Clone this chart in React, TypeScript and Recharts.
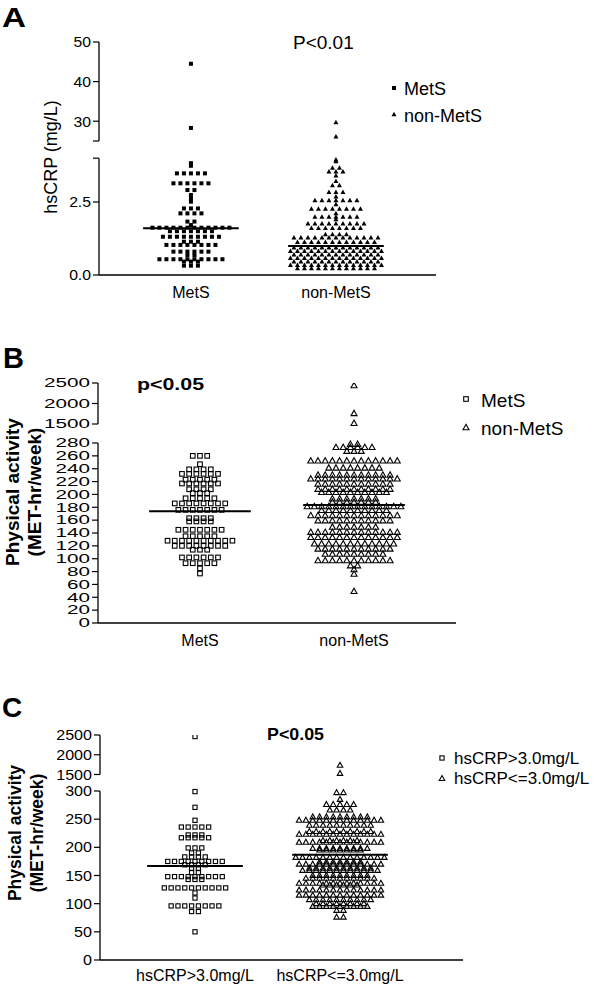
import React from 'react';
import { ScatterChart, Scatter, XAxis, YAxis, ReferenceLine, Legend } from 'recharts';

const FONT = '"Liberation Sans", Arial, Helvetica, sans-serif';

// Each row: [value, number of subjects plotted at that value]
type Row = [number, number];
type Tick = [number, string];
type Seg = { v0: number; v1: number; d0: number; d1: number };

// ---------------- Panel A : hsCRP ----------------
const A_CATEGORIES = ['MetS', 'non-MetS'];
const A_METS: Row[] = [
  [44.5, 1], [28.3, 1],
  [3.83, 1], [3.74, 1], [3.48, 5], [3.14, 6], [2.91, 2], [2.74, 1], [2.61, 1], [2.51, 1],
  [2.28, 3], [2.11, 4], [1.83, 2], [1.71, 1], [1.62, 12], [1.5, 7], [1.31, 9], [1.14, 3],
  [1.03, 8], [0.8, 6], [0.68, 2], [0.54, 10], [0.46, 3], [0.32, 3],
];
const A_NON: Row[] = [
  [29.8, 1], [26.2, 1],
  [3.96, 1], [3.9, 1], [3.68, 2], [3.55, 3], [3.42, 1], [3.23, 1], [3.08, 2], [2.85, 3],
  [2.7, 1], [2.57, 7], [2.43, 1], [2.28, 8], [2.12, 1], [2.0, 7], [1.92, 1], [1.77, 9],
  [1.62, 8], [1.4, 4], [1.29, 13], [1.14, 12],
  [0.95, 13], [0.83, 14], [0.71, 13], [0.59, 14], [0.47, 13], [0.35, 14], [0.24, 12],
];
const A_MEDIANS = [1.6, 0.99];
const A_TICKS: Tick[] = [[0, '0.0'], [2.5, '2.5'], [4, ''], [25, ''], [30, '30'], [40, '40'], [50, '50']];

// ---------------- Panel B : physical activity by MetS ----------------
const B_CATEGORIES = ['MetS', 'non-MetS'];
const B_METS: Row[] = [
  [260, 3], [247, 1], [239, 4], [232, 6], [223, 5], [217, 6], [208, 4], [202, 3], [194, 5],
  [186, 8], [176, 7], [163, 4], [158, 4], [145, 7], [135, 5], [128, 10], [120, 8], [114, 3],
  [102, 6], [93, 5], [85, 1], [77, 1],
];
const B_NON: Row[] = [
  [2450, 1], [1770, 1], [1530, 1],
  [279, 2], [274, 6], [268, 3], [253, 13], [242, 8], [231, 11], [225, 13], [217, 11], [209, 11],
  [204, 10], [194, 7], [189, 7], [182, 14], [176, 10], [168, 13], [160, 11], [150, 7], [142, 13],
  [134, 13], [124, 12], [116, 11], [108, 9], [98, 11], [90, 2], [84, 1], [77, 1], [50, 1],
];
const B_MEDIANS = [174, 183.5];
const B_TICKS: Tick[] = [
  [0, '0'], [20, '20'], [40, '40'], [60, '60'], [80, '80'], [100, '100'], [120, '120'], [140, '140'],
  [160, '160'], [180, '180'], [200, '200'], [220, '220'], [240, '240'], [260, '260'], [280, '280'],
  [1500, '1500'], [2000, '2000'], [2500, '2500'],
];

// ---------------- Panel C : physical activity by hsCRP ----------------
const C_CATEGORIES = ['hsCRP>3.0mg/L', 'hsCRP<=3.0mg/L'];
const C_HIGH: Row[] = [
  [2460, 1], [299, 1], [271, 1], [248, 1], [236, 5], [222, 3], [217, 5], [199, 3], [190, 2],
  [183, 4], [175, 9], [169, 4], [163, 2], [155, 2], [148, 9], [143, 3], [128, 10], [119, 1],
  [110, 1], [96, 8], [86, 2], [50, 1],
];
const C_LOW: Row[] = [
  [1745, 1], [1540, 1],
  [298, 2], [286, 1], [277, 5], [267, 4], [255, 9], [249, 13], [240, 10], [229, 10], [224, 13],
  [213, 6], [210, 13], [199, 9], [196, 7], [183, 14], [175, 7], [171, 13], [164, 10], [160, 12],
  [151, 9], [146, 11], [137, 13], [134, 6], [125, 13], [116, 13], [108, 10], [101, 8], [96, 9],
  [89, 2], [77, 2],
];
const C_MEDIANS = [167, 187];
const C_TICKS: Tick[] = [
  [0, '0'], [50, '50'], [100, '100'], [150, '150'], [200, '200'], [250, '250'], [300, '300'],
  [1500, '1500'], [2000, '2000'], [2500, '2500'],
];

// ---------------- helpers ----------------
function toDisplay(v: number, segs: Seg[]): number {
  for (const s of segs) {
    if (v >= s.v0 - 1e-9 && v <= s.v1 + 1e-9) return s.d0 + ((v - s.v0) / (s.v1 - s.v0)) * (s.d1 - s.d0);
  }
  const last = segs[segs.length - 1];
  return v > last.v1 ? last.d1 : 0;
}

function swarm(rows: Row[], center: number, step: number, segs: Seg[]) {
  const pts: { x: number; y: number; value: number }[] = [];
  rows.forEach(([v, n]) => {
    for (let k = 0; k < n; k++) pts.push({ x: center + (k - (n - 1) / 2) * step, y: toDisplay(v, segs), value: v });
  });
  return pts;
}

const mkShape = (kind: string, size: number, filled: boolean, sw = 1.1) => (p: any) => {
  const { cx, cy } = p;
  if (cx == null || cy == null) return <g />;
  const fill = filled ? '#000' : 'none';
  const stroke = filled ? 'none' : '#000';
  if (kind === 'square') {
    const h = size / 2;
    return <rect x={cx - h} y={cy - h} width={size} height={size} fill={fill} stroke={stroke} strokeWidth={sw} />;
  }
  const w = size / 2;
  const hh = size * 0.45;
  return (
    <path d={`M${cx},${cy - hh}L${cx + w},${cy + hh}L${cx - w},${cy + hh}Z`} fill={fill} stroke={stroke} strokeWidth={sw} strokeLinejoin="miter" />
  );
};

type LegendItem = { label: string; kind: string; size: number; filled: boolean; mx: number; my: number; tx: number; ty: number };

type PanelCfg = {
  top: number;
  height: number;
  margin: { top: number; right: number; bottom: number; left: number };
  yWidth: number;
  domainX: [number, number];
  segs: Seg[];
  yTop: number;
  ticks: Tick[];
  tickFont: number;
  tickSx: number;
  categories: string[];
  catFont: number;
  catDy: number;
  groups: Row[][];
  medians: number[];
  step: number;
  shapes: any[];
  title: string[];
  titleX: number[];
  titleY: number;
  titleFont: number;
  titleBold: boolean;
  legend: LegendItem[];
  legendBox: { left: number; top: number; width: number; height: number };
  legendFont: number;
};

function Panel({ cfg }: { cfg: PanelCfg }) {
  const displayTicks = cfg.ticks.map((t) => toDisplay(t[0], cfg.segs));
  const YTick = (props: any) => {
    const { x, y, payload } = props;
    const idx = displayTicks.findIndex((d) => Math.abs(d - payload.value) < 1e-6);
    const label = idx >= 0 ? cfg.ticks[idx][1] : '';
    return (
      <g transform={`translate(${x},${y})`}>
        <text transform={`scale(${cfg.tickSx},1)`} textAnchor="end" dy="0.36em" fontSize={cfg.tickFont} fontFamily={FONT} fill="#000">
          {label}
        </text>
      </g>
    );
  };
  const XTick = (props: any) => {
    const { x, y, payload } = props;
    return (
      <text x={x} y={y + cfg.catDy} textAnchor="middle" fontSize={cfg.catFont} fontFamily={FONT} fill="#000">
        {cfg.categories[Math.round(payload.value) - 1]}
      </text>
    );
  };
  const Title = () => (
    <g>
      {cfg.title.map((line, i) => (
        <text
          key={i}
          x={cfg.titleX[i]}
          y={cfg.titleY}
          transform={`rotate(-90 ${cfg.titleX[i]} ${cfg.titleY})`}
          textAnchor="middle"
          fontSize={cfg.titleFont}
          fontWeight={cfg.titleBold ? 'bold' : 'normal'}
          fontFamily={FONT}
          fill="#000"
        >
          {line}
        </text>
      ))}
    </g>
  );
  const LegendContent = () => (
    <svg width={cfg.legendBox.width} height={cfg.legendBox.height} style={{ display: 'block', overflow: 'visible' }}>
      {cfg.legend.map((it, i) => (
        <g key={i}>
          {mkShape(it.kind, it.size, it.filled)({ cx: it.mx, cy: it.my })}
          <text x={it.tx} y={it.ty} fontSize={cfg.legendFont} fontFamily={FONT} fill="#000">
            {it.label}
          </text>
        </g>
      ))}
    </svg>
  );
  const lo = cfg.domainX[0];
  return (
    <div style={{ position: 'absolute', left: 0, top: cfg.top, width: 600, height: cfg.height }}>
      <ScatterChart width={600} height={cfg.height} margin={cfg.margin}>
        <XAxis
          type="number"
          dataKey="x"
          domain={cfg.domainX}
          ticks={[1, 2]}
          allowDataOverflow
          tickLine={false}
          tickSize={0}
          tickMargin={0}
          height={25}
          axisLine={{ stroke: '#000', strokeWidth: 1.3 }}
          tick={<XTick />}
          interval={0}
        />
        <YAxis
          type="number"
          dataKey="y"
          domain={[0, cfg.yTop]}
          ticks={displayTicks}
          allowDataOverflow
          interval={0}
          width={cfg.yWidth}
          axisLine={false}
          tickLine={{ stroke: '#000', strokeWidth: 1.2 }}
          tickSize={6}
          tickMargin={2}
          tick={<YTick />}
          label={{ content: () => <Title /> }}
        />
        <Legend
          layout="vertical"
          align="center"
          verticalAlign="middle"
          content={() => <LegendContent />}
          wrapperStyle={{ ...cfg.legendBox, position: 'absolute' }}
        />
        {cfg.segs.map((s, i) => (
          <ReferenceLine
            key={'ax' + i}
            segment={[{ x: lo, y: s.d0 }, { x: lo, y: s.d1 }]}
            stroke="#000"
            strokeWidth={1.3}
            ifOverflow="visible"
          />
        ))}
        {cfg.groups.map((rows, gi) => (
          <Scatter
            key={'g' + gi}
            name={cfg.categories[gi]}
            data={swarm(rows, gi + 1, cfg.step, cfg.segs)}
            shape={cfg.shapes[gi]}
            isAnimationActive={false}
          />
        ))}
        {cfg.medians.map((m, gi) => (
          <ReferenceLine
            key={'m' + gi}
            segment={[{ x: gi + 1 - 0.33, y: toDisplay(m, cfg.segs) }, { x: gi + 1 + 0.33, y: toDisplay(m, cfg.segs) }]}
            stroke="#000"
            strokeWidth={2}
            ifOverflow="visible"
          />
        ))}
      </ScatterChart>
    </div>
  );
}

const PANEL_A: PanelCfg = {
  top: 0,
  height: 305,
  margin: { top: 42, right: 164, bottom: 5, left: 0 },
  yWidth: 99,
  domainX: [0.366, 2.69],
  segs: [
    { v0: 0, v1: 4, d0: 0, d1: 116.8 },
    { v0: 25, v1: 50, d0: 134, d1: 233 },
  ],
  yTop: 233,
  ticks: A_TICKS,
  tickFont: 15,
  tickSx: 1.05,
  categories: A_CATEGORIES,
  catFont: 16,
  catDy: 23,
  groups: [A_METS, A_NON],
  medians: A_MEDIANS,
  step: 0.0483,
  shapes: [mkShape('square', 4, true), mkShape('tri', 5, true)],
  title: ['hsCRP (mg/L)'],
  titleX: [57],
  titleY: 157,
  titleFont: 18,
  titleBold: false,
  legend: [
    { label: 'MetS', kind: 'square', size: 4, filled: true, mx: 9, my: 13, tx: 19, ty: 20 },
    { label: 'non-MetS', kind: 'tri', size: 5, filled: true, mx: 9, my: 39, tx: 19, ty: 47 },
  ],
  legendBox: { left: 385, top: 75, width: 200, height: 60 },
  legendFont: 18,
};

const PANEL_B: PanelCfg = {
  top: 300,
  height: 352,
  margin: { top: 83, right: 144, bottom: 4, left: 0 },
  yWidth: 98,
  domainX: [0.338, 2.662],
  segs: [
    { v0: 0, v1: 280, d0: 0, d1: 180 },
    { v0: 1500, v1: 2500, d0: 199, d1: 240 },
  ],
  yTop: 240,
  ticks: B_TICKS,
  tickFont: 12,
  tickSx: 1.72,
  categories: B_CATEGORIES,
  catFont: 16,
  catDy: 23,
  groups: [B_METS, B_NON],
  medians: B_MEDIANS,
  step: 0.0468,
  shapes: [mkShape('square', 4.6, false), mkShape('tri', 6, false)],
  title: ['Physical activity', '(MET-hr/week)'],
  titleX: [19, 41],
  titleY: 192,
  titleFont: 19,
  titleBold: true,
  legend: [
    { label: 'MetS', kind: 'square', size: 4.6, filled: false, mx: 11, my: 14, tx: 26, ty: 22 },
    { label: 'non-MetS', kind: 'tri', size: 6, filled: false, mx: 11, my: 42, tx: 26, ty: 50 },
  ],
  legendBox: { left: 455, top: 85, width: 145, height: 60 },
  legendFont: 19,
};

const PANEL_C: PanelCfg = {
  top: 650,
  height: 336,
  margin: { top: 85, right: 137, bottom: 1, left: 0 },
  yWidth: 100,
  domainX: [0.345, 2.848],
  segs: [
    { v0: 0, v1: 300, d0: 0, d1: 169 },
    { v0: 1500, v1: 2500, d0: 185.5, d1: 225 },
  ],
  yTop: 225,
  ticks: C_TICKS,
  tickFont: 14,
  tickSx: 1.15,
  categories: C_CATEGORIES,
  catFont: 16,
  catDy: 21,
  groups: [C_HIGH, C_LOW],
  medians: C_MEDIANS,
  step: 0.047,
  shapes: [mkShape('square', 4.2, false), mkShape('tri', 5.5, false)],
  title: ['Physical activity', '(MET-hr/week)'],
  titleX: [21, 43],
  titleY: 183,
  titleFont: 17.5,
  titleBold: true,
  legend: [
    { label: 'hsCRP>3.0mg/L', kind: 'square', size: 4.2, filled: false, mx: 7, my: 13, tx: 19, ty: 19 },
    { label: 'hsCRP<=3.0mg/L', kind: 'tri', size: 5.5, filled: false, mx: 7, my: 33, tx: 19, ty: 39 },
  ],
  legendBox: { left: 435, top: 95, width: 165, height: 50 },
  legendFont: 17,
};

export default function App() {
  return (
    <div style={{ position: 'absolute', left: 0, top: 0, width: 600, height: 986, background: '#fff', overflow: 'hidden' }}>
      <Panel cfg={PANEL_A} />
      <Panel cfg={PANEL_B} />
      <Panel cfg={PANEL_C} />
      <svg width={600} height={986} style={{ position: 'absolute', left: 0, top: 0, pointerEvents: 'none' }}>
        <text x={2} y={27} fontSize={28} fontWeight="bold" fontFamily={FONT} textLength={24} lengthAdjust="spacingAndGlyphs">A</text>
        <text x={293} y={49} fontSize={19} fontFamily={FONT}>{'P<0.01'}</text>
        <text x={3} y={368} fontSize={29} fontWeight="bold" fontFamily={FONT}>B</text>
        <text x={137} y={390} fontSize={16} fontWeight="bold" fontFamily={FONT} textLength={67} lengthAdjust="spacingAndGlyphs">{'p<0.05'}</text>
        <text x={2} y={717} fontSize={28} fontWeight="bold" fontFamily={FONT}>C</text>
        <text x={267} y={740} fontSize={16.5} fontWeight="bold" fontFamily={FONT} textLength={57} lengthAdjust="spacingAndGlyphs">{'P<0.05'}</text>
      </svg>
    </div>
  );
}
